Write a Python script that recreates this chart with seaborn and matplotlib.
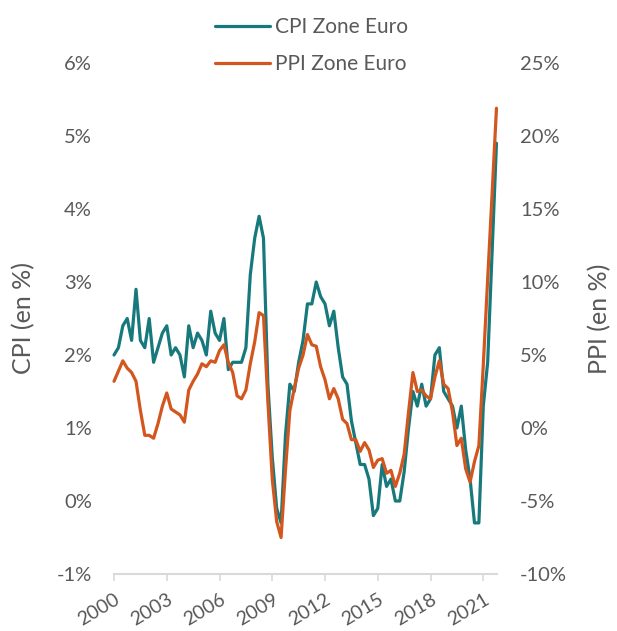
import matplotlib
matplotlib.use('Agg')
import matplotlib.pyplot as plt
import numpy as np
import pandas as pd
import seaborn as sns
from matplotlib.ticker import FuncFormatter

# quarterly readings, 2000Q1 .. 2021Q4
cpi = [
    2.0, 2.1, 2.4, 2.5,   2.2, 2.9, 2.2, 2.1,   2.5, 1.9, 2.1, 2.3,
    2.4, 2.0, 2.1, 2.0,   1.7, 2.4, 2.1, 2.3,   2.2, 2.0, 2.6, 2.3,
    2.2, 2.5, 1.8, 1.9,   1.9, 1.9, 2.1, 3.1,   3.6, 3.9, 3.6, 1.6,
    0.6, -0.1, -0.3, 0.9, 1.6, 1.5, 1.9, 2.2,   2.7, 2.7, 3.0, 2.8,
    2.7, 2.4, 2.6, 2.1,   1.7, 1.6, 1.1, 0.8,   0.5, 0.5, 0.3, -0.2,
    -0.1, 0.5, 0.2, 0.3,  0.0, 0.0, 0.4, 1.0,   1.5, 1.3, 1.6, 1.3,
    1.4, 2.0, 2.1, 1.5,   1.4, 1.3, 1.0, 1.3,   0.7, 0.3, -0.3, -0.3,
    1.3, 1.9, 3.4, 4.9,
]
ppi = [
    3.2, 3.9, 4.6, 4.1,   3.8, 3.2, 1.2, -0.5,  -0.5, -0.7, 0.3, 1.5,
    2.4, 1.3, 1.1, 0.9,   0.4, 2.6, 3.2, 3.7,   4.4, 4.2, 4.6, 4.5,
    5.3, 5.7, 4.5, 3.8,   2.2, 2.0, 2.6, 4.4,   5.9, 7.9, 7.7, 1.8,
    -3.5, -6.4, -7.5, -2.9, 1.2, 2.7, 4.1, 5.0, 6.4, 5.7, 5.6, 4.2,
    3.3, 2.0, 2.7, 2.0,   0.6, 0.3, -0.8, -0.8, -1.6, -1.0, -1.5, -2.7,
    -2.2, -2.1, -3.1, -2.9, -4.0, -3.1, -1.8, 1.1, 3.8, 2.5, 2.6, 2.2,
    2.0, 3.5, 4.6, 3.0,   2.7, 1.1, -1.2, -0.7, -2.8, -3.7, -2.3, -1.2,
    4.3, 10.2, 16.0, 21.9,
]
year_ticks = [2000, 2003, 2006, 2009, 2012, 2015, 2018, 2021]
cpi_ticks = [-1, 0, 1, 2, 3, 4, 5, 6]
ppi_ticks = [-10, -5, 0, 5, 10, 15, 20, 25]

data = pd.DataFrame({
    'date': np.arange(2000, 2022, 0.25),
    'cpi': cpi,
    'ppi': ppi,
})

teal = '#17797b'
orange = '#d2561d'
grey_txt = '#595959'
grey_axis = '#d9d9d9'

sns.set_theme(style='white')
plt.rcParams['font.family'] = ['Lato', 'DejaVu Sans']
plt.rcParams['axes.unicode_minus'] = False

fig, ax = plt.subplots(figsize=(6.17, 6.31), dpi=100)
fig.subplots_adjust(left=0.1848, right=0.8055, bottom=0.0903, top=0.9002)
ax2 = ax.twinx()

sns.lineplot(data=data, x='date', y='cpi', ax=ax, color=teal, linewidth=2.3,
             label='CPI Zone Euro', clip_on=False)
sns.lineplot(data=data, x='date', y='ppi', ax=ax2, color=orange, linewidth=2.3,
             label='PPI Zone Euro', clip_on=False)

ax.set_xlim(2000, 2021.78)
ax.set_ylim(-1, 6)
ax2.set_ylim(-10, 25)
ax.set_xticks(year_ticks)
ax.set_yticks(cpi_ticks)
ax2.set_yticks(ppi_ticks)
pct = FuncFormatter(lambda v, _: f'{v:.0f}%')
ax.yaxis.set_major_formatter(pct)
ax2.yaxis.set_major_formatter(pct)

for s in ['top', 'left', 'right']:
    ax.spines[s].set_visible(False)
for s in ['top', 'left', 'right', 'bottom']:
    ax2.spines[s].set_visible(False)
ax.spines['bottom'].set_color(grey_axis)
ax.spines['bottom'].set_linewidth(1.5)

ax.tick_params(axis='x', bottom=True, length=5, width=1.2, color=grey_axis,
               labelsize=14, labelcolor=grey_txt, pad=7)
ax.tick_params(axis='y', left=False, length=0, labelsize=14.5, labelcolor=grey_txt, pad=16)
ax2.tick_params(axis='y', right=False, length=0, labelsize=14.5, labelcolor=grey_txt, pad=16.5)
for lab in ax.get_xticklabels():
    lab.set_rotation(31)
    lab.set_ha('right')
    lab.set_va('top')
    lab.set_rotation_mode('anchor')

ax.set_xlabel('')
ax.set_ylabel('CPI (en %)', fontsize=18, color=grey_txt)
ax2.set_ylabel('PPI (en %)', fontsize=18, color=grey_txt, rotation=90)
ax.yaxis.set_label_coords(-0.206, 0.5)
ax2.yaxis.set_label_coords(1.238, 0.5)

handles = ax.get_legend().legend_handles + ax2.get_legend().legend_handles
labels = ['CPI Zone Euro', 'PPI Zone Euro']
ax.get_legend().remove()
ax2.get_legend().remove()
fig.legend(handles, labels, loc='upper center', bbox_to_anchor=(0.505, 1.002),
           frameon=False, fontsize=15, labelcolor=grey_txt, handlelength=2.6,
           handletextpad=0.25, labelspacing=0.8)

fig.savefig('out.png', dpi=100)
